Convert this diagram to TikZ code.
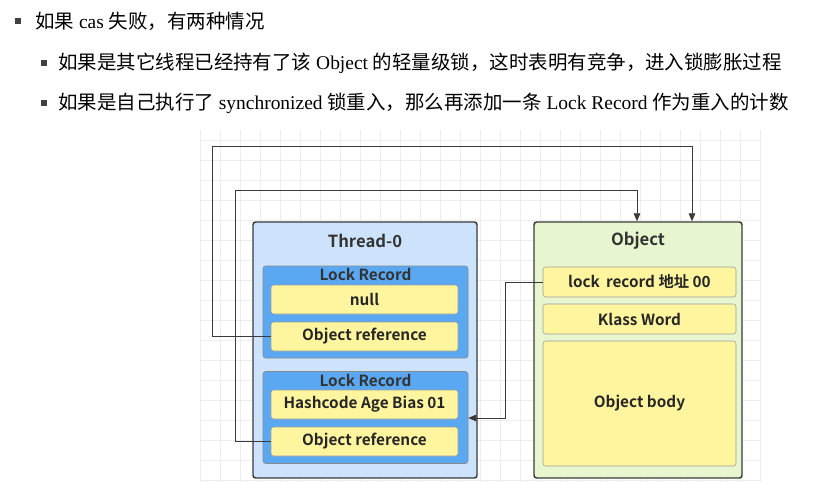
\documentclass[tikz,border=0pt]{standalone}
\usepackage{fontspec}
\setmainfont{Liberation Serif}
\newfontfamily\cjk{Noto Sans CJK SC}
\newfontfamily\boxfont{Noto Sans CJK SC Bold}
\usetikzlibrary{arrows.meta}
\definecolor{threadbg}{HTML}{CCE3FB}
\definecolor{recordbg}{HTML}{5AA8F2}
\definecolor{slotbg}{HTML}{FFF59E}
\definecolor{objbg}{HTML}{E8F6D0}
\definecolor{edge}{HTML}{3A3A3A}
\begin{document}
\begin{tikzpicture}[x=0.75pt,y=-0.75pt,>={Triangle[length=6pt,width=5pt]}]
  \tikzstyle{outer} = [draw=edge, line width=1.1pt, rounded corners=2pt]
  \tikzstyle{record} = [draw=edge!60, fill=recordbg, rounded corners=2pt, minimum width=153.75pt, minimum height=69pt]
  \tikzstyle{slot} = [draw=edge!50, fill=slotbg, rounded corners=2pt, minimum width=140.25pt, minimum height=21.75pt, inner sep=1pt, font=\boxfont\fontsize{11.5}{13}\selectfont, text=black!85]
  \tikzstyle{title} = [font=\boxfont\fontsize{12.5}{14}\selectfont, text=black!80]
  \tikzstyle{link} = [draw=edge, line width=0.6pt]
  \tikzstyle{bullet} = [fill=black!75, minimum size=4.5pt, inner sep=0pt]
  \tikzstyle{line} = [anchor=west, inner sep=0pt, font=\fontsize{14.6}{17}\selectfont]
  \useasboundingbox (0,0) rectangle (828,490);
  \fill[white] (0,0) rectangle (828,490);
  % grid
  \draw[black!7, step=15pt] (200,130) grid (760,482);
  % bullets
  \node [bullet] (b0) at (18,21) {};
  \node [line] (t0) at (35,21) {{\cjk 如果} cas {\cjk 失败，有两种情况}};
  \node [bullet] (b1) at (44,63) {};
  \node [line] (t1) at (58,63) {{\cjk 如果是其它线程已经持有了该} Object {\cjk 的轻量级锁，这时表明有竞争，进入锁膨胀过程}};
  \node [bullet] (b2) at (44,103) {};
  \node [line] (t2) at (58,103) {{\cjk 如果是自己执行了} synchronized {\cjk 锁重入，那么再添加一条} Lock Record {\cjk 作为重入的计数}};
  % thread side
  \node [outer, fill=threadbg, minimum width=168pt, minimum height=192pt] (thread) at (365,350) {};
  \node [title] at (365,241) {Thread-0};
  \node [record] (rec1) at (365.5,312) {};
  \node [title, font=\boxfont\fontsize{11.5}{13}\selectfont] at (365.5,274) {Lock Record};
  \node [slot] (null) at (364.5,299.5) {null};
  \node [slot] (ref1) at (364.5,336.5) {Object reference};
  \node [record] (rec2) at (365.5,417.5) {};
  \node [title, font=\boxfont\fontsize{11.5}{13}\selectfont] at (365.5,380) {Lock Record};
  \node [slot] (hash) at (364.5,404.5) {Hashcode Age Bias 01};
  \node [slot] (ref2) at (364.5,441.5) {Object reference};
  % object side
  \node [outer, fill=objbg, minimum width=156pt, minimum height=192pt] (object) at (638,350) {};
  \node [title] at (638,241) {Object};
  \node [slot, minimum width=144.75pt, minimum height=22.5pt] (addr) at (639.5,282) {lock\, record {地址} 00};
  \node [slot, minimum width=144.75pt, minimum height=22.5pt] (klass) at (639.5,319) {Klass Word};
  \node [slot, minimum width=144.75pt, minimum height=93.75pt] (body) at (639.5,403.5) {Object body};
  % links
  \draw [link, ->] (ref1.west) -| (212,146) -| (object.north -| 692,0);
  \draw [link, ->] (ref2.west) -| (235,190) -| (object.north -| 637,0);
  \draw [link, ->] (addr.west) -| (505,418) -- (rec2.east |- 0,418);
\end{tikzpicture}
\end{document}
